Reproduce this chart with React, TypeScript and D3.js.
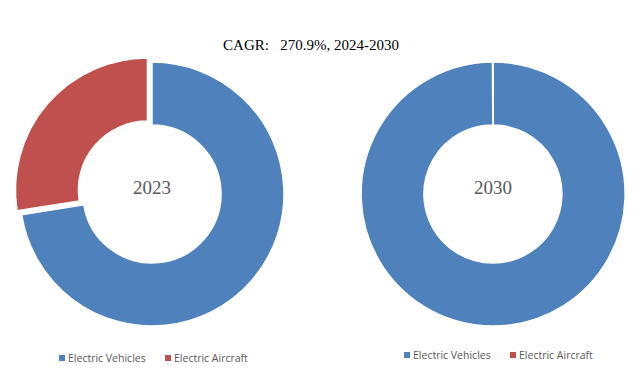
import React from "react";
import * as d3 from "d3";

const categories = ["Electric Vehicles", "Electric Aircraft"];
const years = ["2023", "2030"];
const values2023 = [72.5, 27.5];
const values2030 = [99.95, 0.05];
const colors = ["#4F81BD", "#C0504D"];
const title = "CAGR:   270.9%, 2024-2030";

const W = 643;
const H = 378;

function Donut({ cx, cy, values, label, explode }: { cx: number; cy: number; values: number[]; label: string; explode: boolean }) {
  const pie = d3.pie<number>().sort(null).value((d) => d);
  const arcs = pie(values);
  const arc = d3.arc<d3.PieArcDatum<number>>().innerRadius(69).outerRadius(132);
  return (
    <g transform={`translate(${cx},${cy})`}>
      {arcs.map((a, i) => {
        let dx = 0, dy = 0;
        if (explode && i === 1) {
          const mid = (a.startAngle + a.endAngle) / 2;
          dx = Math.sin(mid) * 6;
          dy = -Math.cos(mid) * 6;
        }
        return (
          <path
            key={i}
            d={arc(a) || ""}
            fill={colors[i]}
            stroke="#ffffff"
            strokeWidth={1.5}
            transform={`translate(${dx},${dy})`}
          />
        );
      })}
      <text x={0} y={0} dy="0.35em" textAnchor="middle" fontFamily="'Liberation Serif', 'DejaVu Serif', serif" fontSize={19} fill="#595959" transform="translate(0,-7)">
        {label}
      </text>
    </g>
  );
}

function Legend({ x, y }: { x: number; y: number }) {
  const offsets = [0, 106];
  return (
    <g transform={`translate(${x},${y})`}>
      {categories.map((c, i) => (
        <g key={c} transform={`translate(${offsets[i]},0)`}>
          <rect x={0} y={-3} width={6} height={6} fill={colors[i]} />
          <text x={9} y={0} dy="0.35em" fontFamily="'Open Sans', 'Noto Sans', sans-serif" fontSize={10.5} fill="#595959">
            {c}
          </text>
        </g>
      ))}
    </g>
  );
}

export default function App() {
  return (
    <svg width={W} height={H} style={{ position: "absolute", left: 0, top: 0, background: "#fff" }}>
      <text x={311} y={45} dy="0.35em" textAnchor="middle" fontFamily="'Liberation Serif', 'DejaVu Serif', serif" fontSize={15} fill="#000" style={{ whiteSpace: "pre" }}>
        {title}
      </text>
      <Donut cx={152} cy={194} values={values2023} label={years[0]} explode={true} />
      <Donut cx={493} cy={194} values={values2030} label={years[1]} explode={false} />
      <Legend x={59} y={358} />
      <Legend x={404} y={355} />
    </svg>
  );
}
